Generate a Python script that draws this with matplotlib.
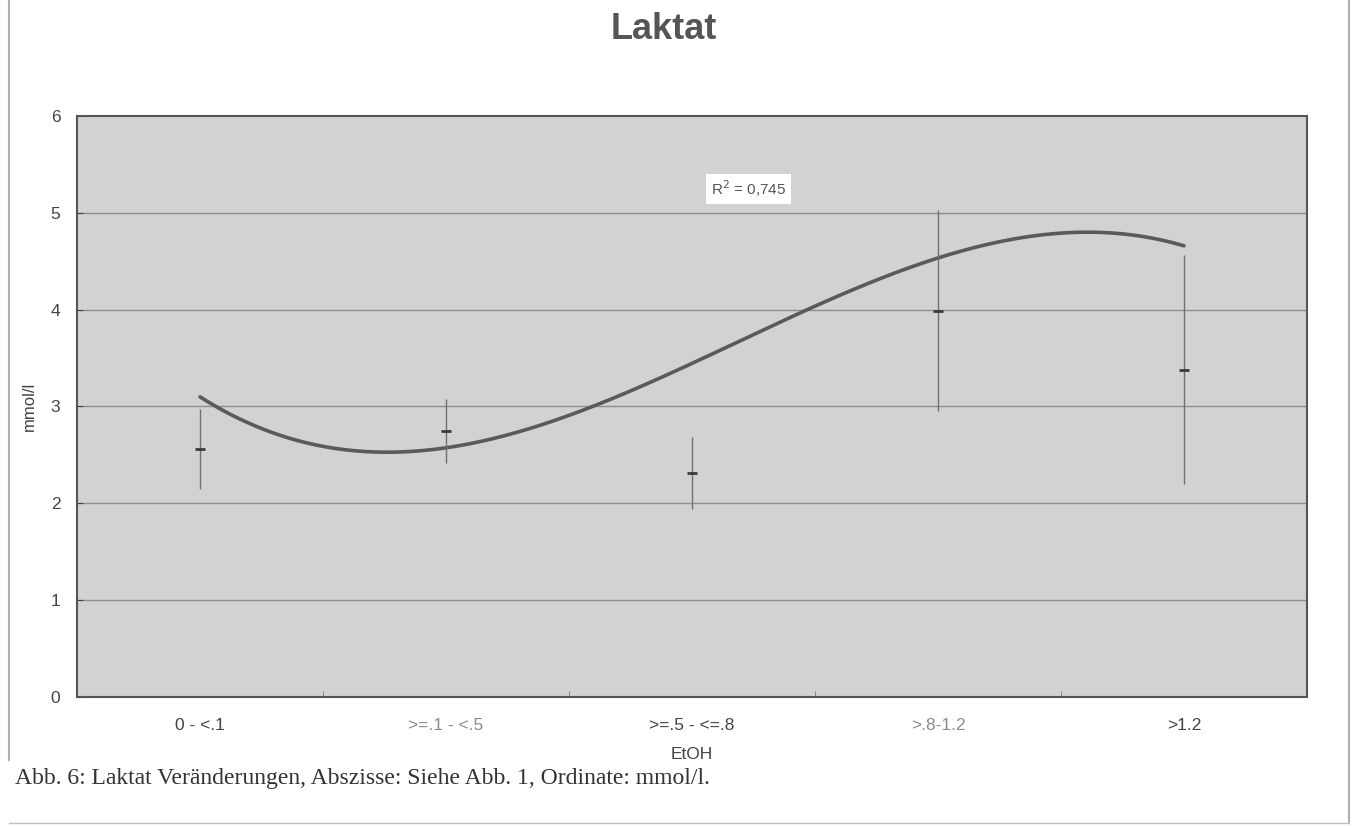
import matplotlib.pyplot as plt
import numpy as np
from matplotlib.lines import Line2D

# EtOH groups (x axis categories)
groups = ["0 - <.1", ">=.1 - <.5", ">=.5 - <=.8", ">.8-1.2", ">1.2"]
label_colors = ["#444444", "#8c8c8c", "#444444", "#8c8c8c", "#444444"]

# lactate per group, mmol/l
means = [2.56, 2.75, 2.31, 3.99, 3.38]
errs = [0.41, 0.33, 0.37, 1.04, 1.18]

# cubic trend line (values of the trend at each group)
trend_vals = [3.10, 2.57, 3.45, 4.53, 4.66]
r2_text = "R$^2$ = 0,745"

plt.rcParams["font.family"] = ["Liberation Sans", "DejaVu Sans"]

fig = plt.figure(figsize=(13.52, 8.26), dpi=100)
ax = fig.add_axes([0.057, 0.1562, 0.9097, 0.7034])
ax.set_facecolor("#d2d2d2")

x = np.arange(1, len(groups) + 1)

# grid
for yv in range(1, 6):
    ax.axhline(yv, color="#8e8e8e", lw=1.0, zorder=1)

# trend line
coef = np.polyfit(x, trend_vals, 3)
xs = np.linspace(1, 5, 300)
ax.plot(xs, np.polyval(coef, xs), color="#5a5a5a", lw=2.6, zorder=3,
        solid_capstyle="round")

# error bars with mean dash
ax.errorbar(x, means, yerr=errs, fmt="_", color="#6a6a6a", ecolor="#707070",
            elinewidth=1.0, capsize=0, markersize=7, markeredgewidth=2.0,
            mec="#3a3a3a", zorder=4)

ax.text(3.23, 5.25, r2_text, ha="center", va="center", fontsize=11,
        color="#555555", zorder=5,
        bbox=dict(boxstyle="square,pad=0.3", fc="white", ec="none"))

ax.set_xlim(0.5, 5.5)
ax.set_ylim(0, 6)
ax.set_xticks(x)
ax.set_xticklabels(groups, fontsize=12.5)
for lbl, c in zip(ax.get_xticklabels(), label_colors):
    lbl.set_color(c)
ax.set_yticks(range(0, 7))
ax.tick_params(axis="y", labelsize=12.5, colors="#444444", length=4,
               direction="in", pad=12)
ax.tick_params(axis="x", length=0, pad=15)
ax.set_xticks(np.arange(1.5, 5.5, 1), minor=True)
ax.tick_params(axis="x", which="minor", length=4, direction="in",
               color="#777777")

for s in ax.spines.values():
    s.set_color("#555555")
    s.set_linewidth(1.5)

ax.set_xlabel("EtOH", fontsize=12.5, color="#444444", labelpad=10)
ax.set_ylabel("mmol/l", fontsize=12, color="#444444", labelpad=10)

fig.text(0.491, 0.964, "Laktat", ha="center", va="center", fontsize=26,
         fontweight="bold", color="#555555")

fig.text(0.011, 0.057, "Abb. 6: Laktat Veränderungen, Abszisse: Siehe Abb. 1, Ordinate: mmol/l.",
         ha="left", va="center", fontsize=17, family="Liberation Serif",
         color="#333333")

# outer frame lines
fig.add_artist(Line2D([0.0065, 0.0065], [1.0, 0.08], color="#b0b0b0", lw=1.5))
fig.add_artist(Line2D([0.9975, 0.9975], [1.0, 0.004], color="#b0b0b0", lw=1.5))
fig.add_artist(Line2D([0.0065, 0.9975], [0.004, 0.004], color="#c0c0c0", lw=1.0))

fig.savefig("out.png", dpi=100)
